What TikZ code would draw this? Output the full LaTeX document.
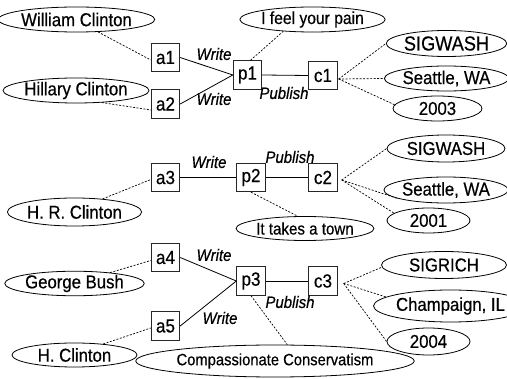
\documentclass[tikz,border=0pt]{standalone}
\usepackage{fontspec}
\setmainfont[FakeStretch=0.9,FakeBold=0.5]{Liberation Sans}
\usetikzlibrary{shapes.geometric}
\tikzset{
  fs/.style={font=\fontsize{#1}{#1}\selectfont},
  ent/.style={draw=black!85, line width=0.9pt, minimum width=28.5pt, minimum height=28.5pt, inner sep=0pt, fs=19},
  ell/.style={draw=black, line width=0.8pt, ellipse, inner sep=0pt, fs=18.6},
  rel/.style={draw=black, line width=0.8pt},
  attr/.style={draw=black, line width=0.7pt, dash pattern=on 2pt off 1.5pt},
  lab/.style={font=\fontsize{16.6}{16.6}\selectfont\itshape, inner sep=0pt}
}
\begin{document}
\begin{tikzpicture}[x=1pt,y=-1pt]
\useasboundingbox (0,0) rectangle (507,379);
% boxes
\node[ent] (a1) at (165.5,57.5) {a1};
\node[ent] (a2) at (165.5,104) {a2};
\node[ent] (p1) at (247.5,75) {p1};
\node[ent] (c1) at (323,75.5) {c1};
\node[ent] (a3) at (165.5,177.5) {a3};
\node[ent] (p2) at (251,177.5) {p2};
\node[ent] (c2) at (323,177.5) {c2};
\node[ent] (a4) at (165.5,257.5) {a4};
\node[ent] (a5) at (165.5,326) {a5};
\node[ent] (p3) at (251,281) {p3};
\node[ent] (c3) at (323,281) {c3};
% ellipses
\node[ell, minimum width=129pt, minimum height=25pt] (wc) at (76.5,19.5) {William Clinton};
\node[ell, minimum width=128pt, minimum height=25pt] (hc) at (76,90.5) {Hillary Clinton};
\node[ell, fs=17.4, minimum width=121pt, minimum height=25pt] (ifp) at (312.5,19.5) {I feel your pain};
\node[ell, fs=20.2, minimum width=118pt, minimum height=26pt] (sw1) at (446.5,43.5) {SIGWASH};
\node[ell, minimum width=118pt, minimum height=25pt] (se1) at (446.5,78.5) {Seattle, WA};
\node[ell, minimum width=89pt, minimum height=25pt] (y1) at (437.5,108.5) {2003};
\node[ell, minimum width=125pt, minimum height=28pt] (hrc) at (74.5,212) {H. R. Clinton};
\node[ell, fs=16.8, minimum width=124pt, minimum height=24pt] (town) at (305,228.5) {It takes a town};
\node[ell, minimum width=118pt, minimum height=27pt] (sw2) at (446,148.5) {SIGWASH};
\node[ell, minimum width=118pt, minimum height=26pt] (se2) at (446,190) {Seattle, WA};
\node[ell, minimum width=83pt, minimum height=25pt] (y2) at (428.5,220.5) {2001};
\node[ell, minimum width=125pt, minimum height=24pt] (gb) at (74.5,283.5) {George Bush};
\node[ell, minimum width=125pt, minimum height=24pt] (hcl) at (74.5,355) {H. Clinton};
\node[ell, fs=16.4, minimum width=220pt, minimum height=32pt] (cc) at (275,361) {Compassionate Conservatism};
\node[ell, minimum width=125pt, minimum height=27pt] (sr) at (444,265) {SIGRICH};
\node[ell, minimum width=127pt, minimum height=32pt] (ch) at (450.5,306) {Champaign, IL};
\node[ell, minimum width=83pt, minimum height=27pt] (y3) at (428.5,341.5) {2004};
% relationships
\draw[rel] (a1.east) -- (p1.west);
\draw[rel] (a2.east) -- (p1.west);
\draw[rel] (p1.east) -- (c1.west);
\draw[rel] (a3.east) -- (p2.west);
\draw[rel] (p2.east) -- (c2.west);
\draw[rel] (a4.east) -- (p3.west);
\draw[rel] (a5.east) -- (p3.west);
\draw[rel] (p3.east) -- (c3.west);
% labels
\node[lab] (w1) at (214,54) {Write};
\node[lab] (w2) at (214,99) {Write};
\node[lab] (pb1) at (284,93) {Publish};
\node[lab] (w3) at (209,162) {Write};
\node[lab] (pb2) at (290,157) {Publish};
\node[lab] (w4) at (214,255) {Write};
\node[lab] (w5) at (220,318) {Write};
\node[lab] (pb3) at (290,302) {Publish};
% attributes
\coordinate (k1) at ([xshift=1pt,yshift=-3.5pt]c1.east);
\coordinate (k2) at ([xshift=4pt,yshift=-2.5pt]c2.east);
\coordinate (k3) at ([xshift=6pt,yshift=-2.5pt]c3.east);
\draw[attr] (wc.-30) -- ([yshift=-2.5pt]a1.west);
\draw[attr] (hc.-25) -- ([yshift=-6pt]a2.west);
\draw[attr] (hrc.25) -- ([yshift=-2pt]a3.west);
\draw[attr] (gb.17) -- ([yshift=-3pt]a4.west);
\draw[attr] (hcl.21) -- ([yshift=-2pt]a5.west);
\draw[attr] ([xshift=3pt]p1.north) -- (ifp.202);
\draw[attr] (k1) -- (sw1.west);
\draw[attr] (k1) -- (se1.west);
\draw[attr] (k1) -- (y1.175);
\draw[attr] (p2.south) -- (town.121);
\draw[attr] (k2) -- (sw2.west);
\draw[attr] (k2) -- (se2.190);
\draw[attr] (k2) -- (y2.168);
\draw[attr] (p3.south) -- (cc.53);
\draw[attr] (k3) -- (sr.182);
\draw[attr] (k3) -- (ch.172);
\draw[attr] (k3) -- (y3.west);
\end{tikzpicture}
\end{document}
